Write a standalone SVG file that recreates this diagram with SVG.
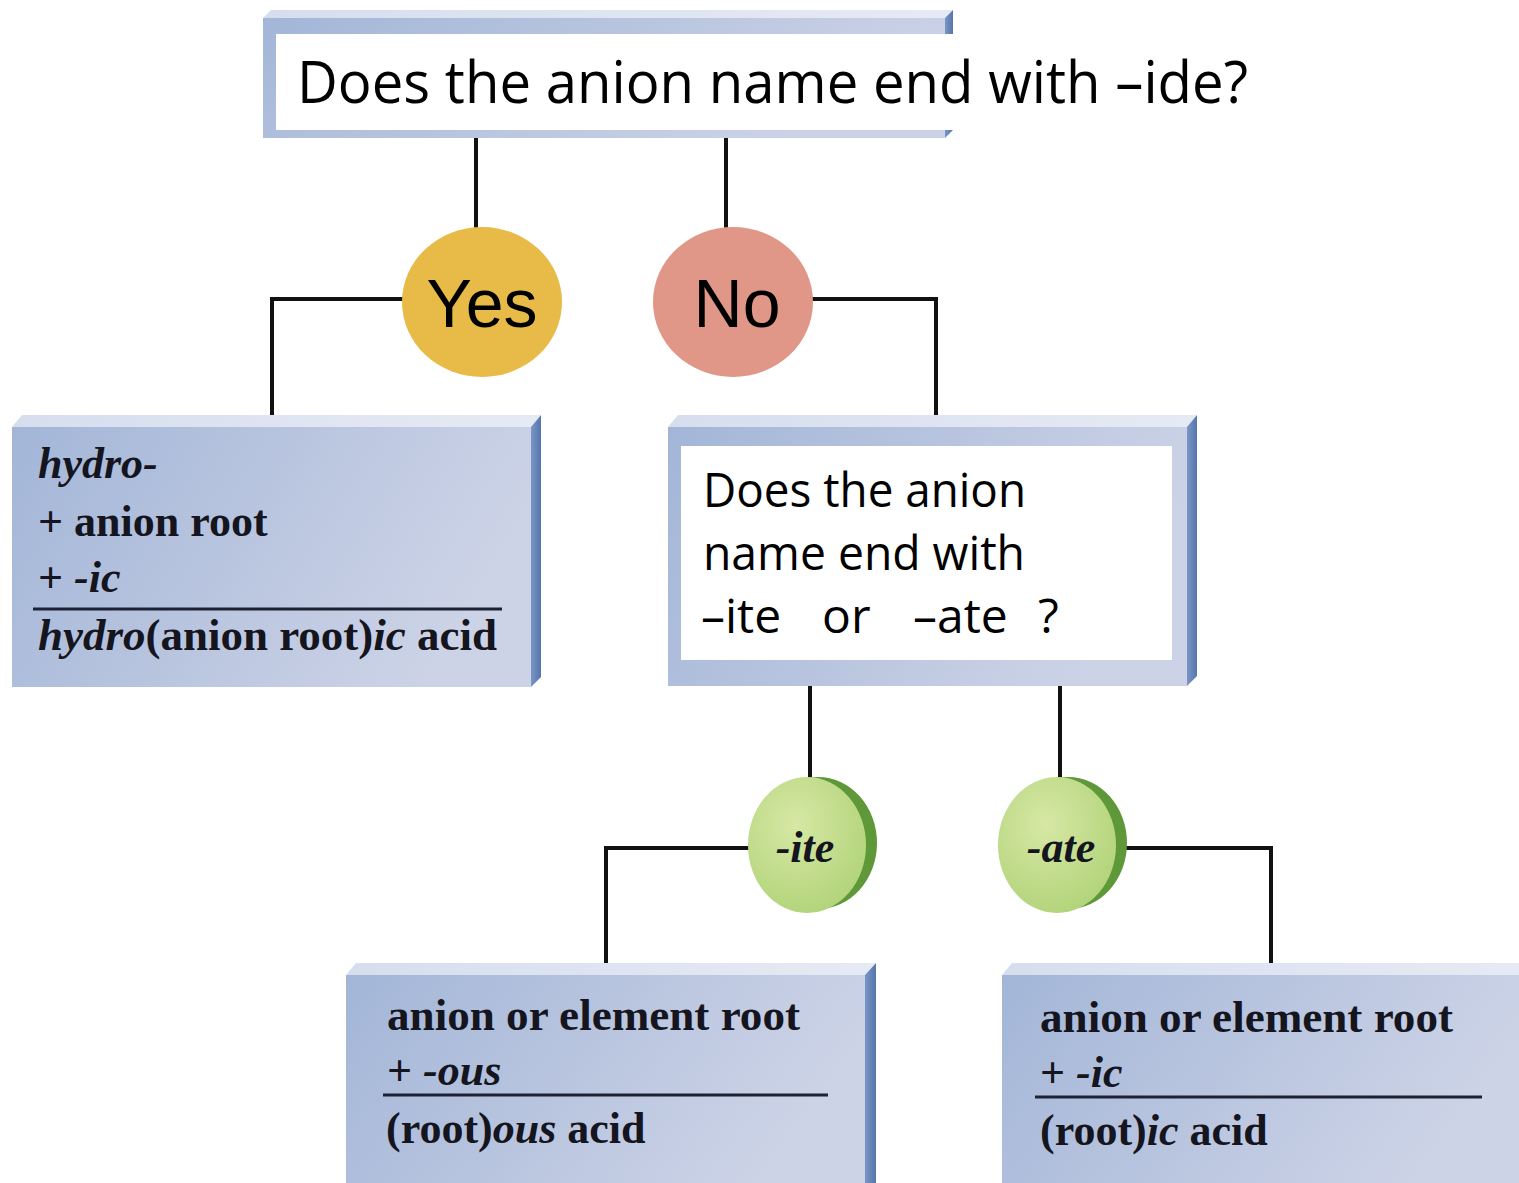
<svg xmlns="http://www.w3.org/2000/svg" width="1519" height="1183" viewBox="0 0 1519 1183">
<defs>
<linearGradient id="face" x1="0" y1="0" x2="1" y2="0.3">
<stop offset="0" stop-color="#a3b6d8"/>
<stop offset="0.6" stop-color="#bcc7e0"/>
<stop offset="1" stop-color="#ccd3e7"/>
</linearGradient>
<linearGradient id="top" x1="0" y1="0" x2="1" y2="0">
<stop offset="0" stop-color="#d6deee"/>
<stop offset="1" stop-color="#e6eaf4"/>
</linearGradient>
<linearGradient id="side" x1="0" y1="0" x2="1" y2="0">
<stop offset="0" stop-color="#7a96c6"/>
<stop offset="1" stop-color="#5675ad"/>
</linearGradient>
<radialGradient id="green" cx="0.4" cy="0.35" r="0.7">
<stop offset="0" stop-color="#d6e8a4"/>
<stop offset="1" stop-color="#b2d37a"/>
</radialGradient>
</defs>
<style>
.conn{stroke:#111;stroke-width:4;fill:none}
.sans{font-family:"Open Sans","Noto Sans","Liberation Sans",sans-serif;fill:#000}
.arial{font-family:"Liberation Sans",Arial,sans-serif;fill:#000}
.serif{font-family:"Liberation Serif","Times New Roman",serif;font-weight:bold;fill:#151520;font-size:44px}
.it{font-style:italic}
.rule{stroke:#1c2233;stroke-width:3}
</style>
<rect width="1519" height="1183" fill="#fff"/>

<g id="connectors">
<path class="conn" d="M476 138V228"/>
<path class="conn" d="M726 138V228"/>
<path class="conn" d="M404 299H272V420"/>
<path class="conn" d="M812 299H936V420"/>
<path class="conn" d="M810 686V778"/>
<path class="conn" d="M1060 686V778"/>
<path class="conn" d="M750 848H606V967"/>
<path class="conn" d="M1125 848H1271V967"/>
</g>

<g id="q1">
<polygon points="263,18 271,10 953,10 945,18" fill="url(#top)"/>
<rect x="263" y="18" width="682" height="120" fill="url(#face)"/>
<polygon points="945,18 953,10 953,130 945,138" fill="url(#side)"/>
<rect x="276" y="34" width="986" height="96" fill="#fff"/>
<text class="sans" x="297" y="103" font-size="58" textLength="951" lengthAdjust="spacingAndGlyphs">Does the anion name end with –ide?</text>
</g>

<g id="yes">
<ellipse cx="482" cy="302" rx="80" ry="75" fill="#e8bb49"/>
<text class="arial" x="482" y="327" font-size="68" text-anchor="middle">Yes</text>
</g>

<g id="no">
<ellipse cx="733" cy="302" rx="80" ry="75" fill="#e09787"/>
<text class="arial" x="737" y="327" font-size="68" text-anchor="middle">No</text>
</g>

<g id="hydro">
<polygon points="12,427 22,415 541,415 531,427" fill="url(#top)"/>
<rect x="12" y="427" width="519" height="260" fill="url(#face)"/>
<polygon points="531,427 541,415 541,677 531,687" fill="url(#side)"/>
<text class="serif it" x="38" y="478">hydro-</text>
<text class="serif" x="38" y="536">+ anion root</text>
<text class="serif" x="38" y="592">+ <tspan class="it">-ic</tspan></text>
<line class="rule" x1="33" y1="609" x2="502" y2="609"/>
<text class="serif" x="38" y="650" textLength="459" lengthAdjust="spacingAndGlyphs"><tspan class="it">hydro</tspan>(anion root)<tspan class="it">ic</tspan> acid</text>
</g>

<g id="q2">
<polygon points="668,427 678,415 1197,415 1187,427" fill="url(#top)"/>
<rect x="668" y="427" width="519" height="259" fill="url(#face)"/>
<polygon points="1187,427 1197,415 1197,676 1187,686" fill="url(#side)"/>
<rect x="681" y="446" width="491" height="214" fill="#fff"/>
<text class="sans" x="703" y="507" font-size="48" textLength="323" lengthAdjust="spacingAndGlyphs">Does the anion</text>
<text class="sans" x="703" y="570" font-size="48" textLength="322" lengthAdjust="spacingAndGlyphs">name end with</text>
<text class="sans" x="701" y="633" font-size="48">–ite</text>
<text class="sans" x="822" y="633" font-size="48">or</text>
<text class="sans" x="913" y="633" font-size="48">–ate</text>
<text class="sans" x="1038" y="633" font-size="48">?</text>
</g>

<g id="ite">
<ellipse cx="818" cy="843" rx="59" ry="66" fill="#5e9838"/>
<ellipse cx="807" cy="845" rx="59" ry="68" fill="url(#green)"/>
<text class="serif it" x="805" y="862" font-size="44" text-anchor="middle">-ite</text>
</g>

<g id="ate">
<ellipse cx="1068" cy="843" rx="59" ry="66" fill="#5e9838"/>
<ellipse cx="1057" cy="845" rx="59" ry="68" fill="url(#green)"/>
<text class="serif it" x="1061" y="862" font-size="44" text-anchor="middle">-ate</text>
</g>

<g id="ous">
<polygon points="346,975 356,963 876,963 865,975" fill="url(#top)"/>
<rect x="346" y="975" width="519" height="208" fill="url(#face)"/>
<polygon points="865,975 876,963 876,1183 865,1183" fill="url(#side)"/>
<text class="serif" x="387" y="1030" textLength="413" lengthAdjust="spacingAndGlyphs">anion or element root</text>
<text class="serif" x="387" y="1085">+ <tspan class="it">-ous</tspan></text>
<line class="rule" x1="383" y1="1095" x2="828" y2="1095"/>
<text class="serif" x="386" y="1143">(root)<tspan class="it">ous</tspan> acid</text>
</g>

<g id="ic">
<polygon points="1002,975 1012,963 1519,963 1519,975" fill="url(#top)"/>
<rect x="1002" y="975" width="517" height="208" fill="url(#face)"/>
<text class="serif" x="1040" y="1032" textLength="413" lengthAdjust="spacingAndGlyphs">anion or element root</text>
<text class="serif" x="1040" y="1087">+ <tspan class="it">-ic</tspan></text>
<line class="rule" x1="1035" y1="1097" x2="1482" y2="1097"/>
<text class="serif" x="1040" y="1145">(root)<tspan class="it">ic</tspan> acid</text>
</g>
</svg>
